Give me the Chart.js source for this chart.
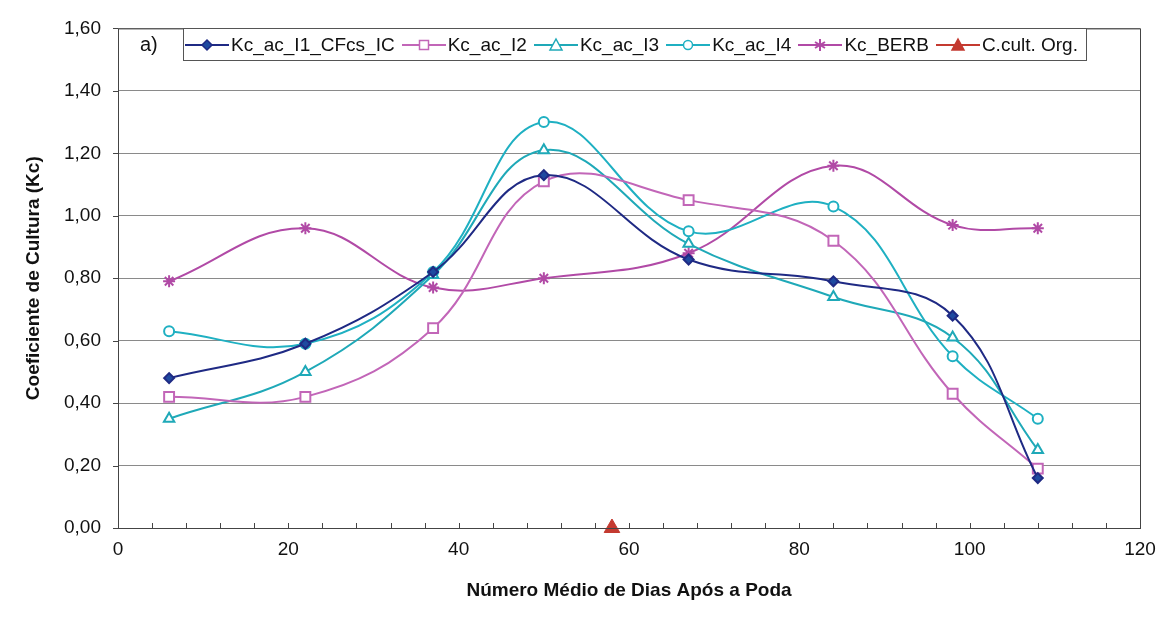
<!DOCTYPE html>
<html>
<head>
<meta charset="utf-8">
<script src="https://cdn.jsdelivr.net/npm/chart.js@4/dist/chart.umd.min.js"></script>
<style>
  html, body { margin: 0; padding: 0; background: #fff; }
  #wrap { position: relative; width: 1163px; height: 624px; }
  #legend {
    position: absolute; left: 183px; top: 28px; height: 31px;
    border: 1px solid #555; background: #fff;
    display: flex; align-items: center; padding: 0 8px 0 1px;
    font-family: "Liberation Sans", Arial, sans-serif; font-size: 19px; color: #111;
    white-space: nowrap;
  }
  #legend .item { display: flex; align-items: center; margin-right: 7px; }
  #legend .item:last-child { margin-right: 0; }
  #legend svg { margin-right: 2px; }
  #tag {
    position: absolute; left: 140px; top: 33px;
    font-family: "Liberation Sans", Arial, sans-serif; font-size: 20px; color: #111;
  }
</style>
</head>
<body>
<div id="wrap">
  <canvas id="c" width="1163" height="624"></canvas>
  <div id="tag">a)</div>
  <div id="legend"></div>
</div>
<script>
// days after pruning
const days = [6, 22, 37, 50, 67, 84, 98, 108];

const kcI1 = [0.48, 0.59, 0.82, 1.13, 0.86, 0.79, 0.68, 0.16];
const kcI2 = [0.42, 0.42, 0.64, 1.11, 1.05, 0.92, 0.43, 0.19];
const kcI3 = [0.35, 0.50, 0.81, 1.21, 0.91, 0.74, 0.61, 0.25];
const kcI4 = [0.63, 0.59, 0.82, 1.30, 0.95, 1.03, 0.55, 0.35];
const kcBerb = [0.79, 0.96, 0.77, 0.80, 0.88, 1.16, 0.97, 0.96];

const cultDay = [58];
const cultVal = [0];

const seriesNames = ['Kc_ac_I1_CFcs_IC', 'Kc_ac_I2', 'Kc_ac_I3', 'Kc_ac_I4', 'Kc_BERB', 'C.cult. Org.'];
const yTicks = [0, 0.2, 0.4, 0.6, 0.8, 1.0, 1.2, 1.4, 1.6];

const toPts = (xs, ys) => xs.map((x, i) => ({ x: x, y: ys[i] }));

const styles = [
  { color: '#1f2a84', shape: 'rectRot', r: 5, fill: '#1f4aa0' },
  { color: '#c266b8', shape: 'rect', r: 7, fill: '#fff' },
  { color: '#1fa9b8', shape: 'triangle', r: 6, fill: '#fff' },
  { color: '#1fb0c2', shape: 'circle', r: 5, fill: '#fff' },
  { color: '#b14aa6', shape: 'star', r: 6, fill: '#b14aa6' },
  { color: '#c43a30', shape: 'triangle', r: 9, fill: '#c43a30' }
];
const values = [kcI1, kcI2, kcI3, kcI4, kcBerb];

const datasets = values.map((v, i) => ({
  label: seriesNames[i],
  data: toPts(days, v),
  borderColor: styles[i].color,
  borderWidth: 2,
  tension: 0.4,
  pointStyle: styles[i].shape,
  pointRadius: styles[i].r,
  pointBorderWidth: 2,
  pointBorderColor: styles[i].color,
  pointBackgroundColor: styles[i].fill
}));
datasets.push({
  label: seriesNames[5],
  data: toPts(cultDay, cultVal),
  showLine: false,
  borderColor: styles[5].color,
  pointStyle: 'triangle',
  pointRadius: styles[5].r,
  pointBorderWidth: 1,
  pointBorderColor: styles[5].color,
  pointBackgroundColor: styles[5].fill,
  clip: false
});

// inward minor ticks on x axis, tick marks left of y axis, plot box
const frame = {
  id: 'frame',
  afterDraw(chart) {
    const { ctx, chartArea: a, scales } = chart;
    ctx.save();
    ctx.strokeStyle = '#444';
    ctx.lineWidth = 1;
    ctx.strokeRect(a.left + 0.5, a.top + 0.5, a.right - a.left, a.bottom - a.top);
    ctx.beginPath();
    for (let v = 0; v <= 120; v += 4) {
      const px = Math.round(scales.x.getPixelForValue(v)) + 0.5;
      ctx.moveTo(px, a.bottom);
      ctx.lineTo(px, a.bottom - 5);
    }
    yTicks.forEach(t => {
      const py = Math.round(scales.y.getPixelForValue(t)) + 0.5;
      ctx.moveTo(a.left - 5, py);
      ctx.lineTo(a.left, py);
    });
    ctx.stroke();
    ctx.restore();
  }
};

const font = "'Liberation Sans', Arial, sans-serif";

new Chart(document.getElementById('c'), {
  type: 'line',
  data: { datasets: datasets },
  options: {
    responsive: false,
    animation: false,
    layout: { padding: { top: 25, right: 23, left: 0, bottom: 0 } },
    plugins: { legend: { display: false }, tooltip: { enabled: false } },
    scales: {
      x: {
        type: 'linear', min: 0, max: 120,
        afterFit(s) { s.height = 96; },
        ticks: { stepSize: 20, color: '#111', font: { family: font, size: 19 }, padding: 2 },
        grid: { display: false },
        border: { display: false },
        title: {
          display: true, text: 'Número Médio de Dias Após a Poda',
          color: '#111', font: { family: font, size: 19, weight: 'bold' }, padding: { top: 0, bottom: 22 }
        }
      },
      y: {
        min: 0, max: 1.6,
        afterFit(s) { s.width = 118; },
        afterBuildTicks(s) { s.ticks = yTicks.map(v => ({ value: v })); },
        ticks: {
          color: '#111', font: { family: font, size: 19 }, padding: 17,
          callback: v => v.toFixed(2).replace('.', ',')
        },
        grid: { color: '#8a8a8a', lineWidth: 1, drawTicks: false },
        border: { display: false },
        title: {
          display: true, text: 'Coeficiente de Cultura (Kc)',
          color: '#111', font: { family: font, size: 19, weight: 'bold' }, padding: { top: 22, bottom: 0 }
        }
      }
    }
  },
  plugins: [frame]
});

// legend
function marker(i) {
  const s = styles[i];
  const line = '<line x1="0" y1="10" x2="44" y2="10" stroke="' + s.color + '" stroke-width="2"/>';
  let m = '';
  if (s.shape === 'rectRot') m = '<polygon points="22,5 27,10 22,15 17,10" fill="' + s.fill + '" stroke="' + s.color + '" stroke-width="1.5"/>';
  if (s.shape === 'rect') m = '<rect x="17.5" y="5.5" width="9" height="9" fill="#fff" stroke="' + s.color + '" stroke-width="1.5"/>';
  if (s.shape === 'triangle') m = '<polygon points="22,4 28,15 16,15" fill="' + s.fill + '" stroke="' + s.color + '" stroke-width="1.5"/>';
  if (s.shape === 'circle') m = '<circle cx="22" cy="10" r="4.5" fill="#fff" stroke="' + s.color + '" stroke-width="1.5"/>';
  if (s.shape === 'star') m = '<path d="M22 4V16M17 7L27 13M17 13L27 7" stroke="' + s.color + '" stroke-width="2"/>';
  return '<svg width="44" height="20">' + line + m + '</svg>';
}
document.getElementById('legend').innerHTML = seriesNames.map((n, i) =>
  '<span class="item">' + marker(i) + '<span>' + n + '</span></span>').join('');
</script>
</body>
</html>
